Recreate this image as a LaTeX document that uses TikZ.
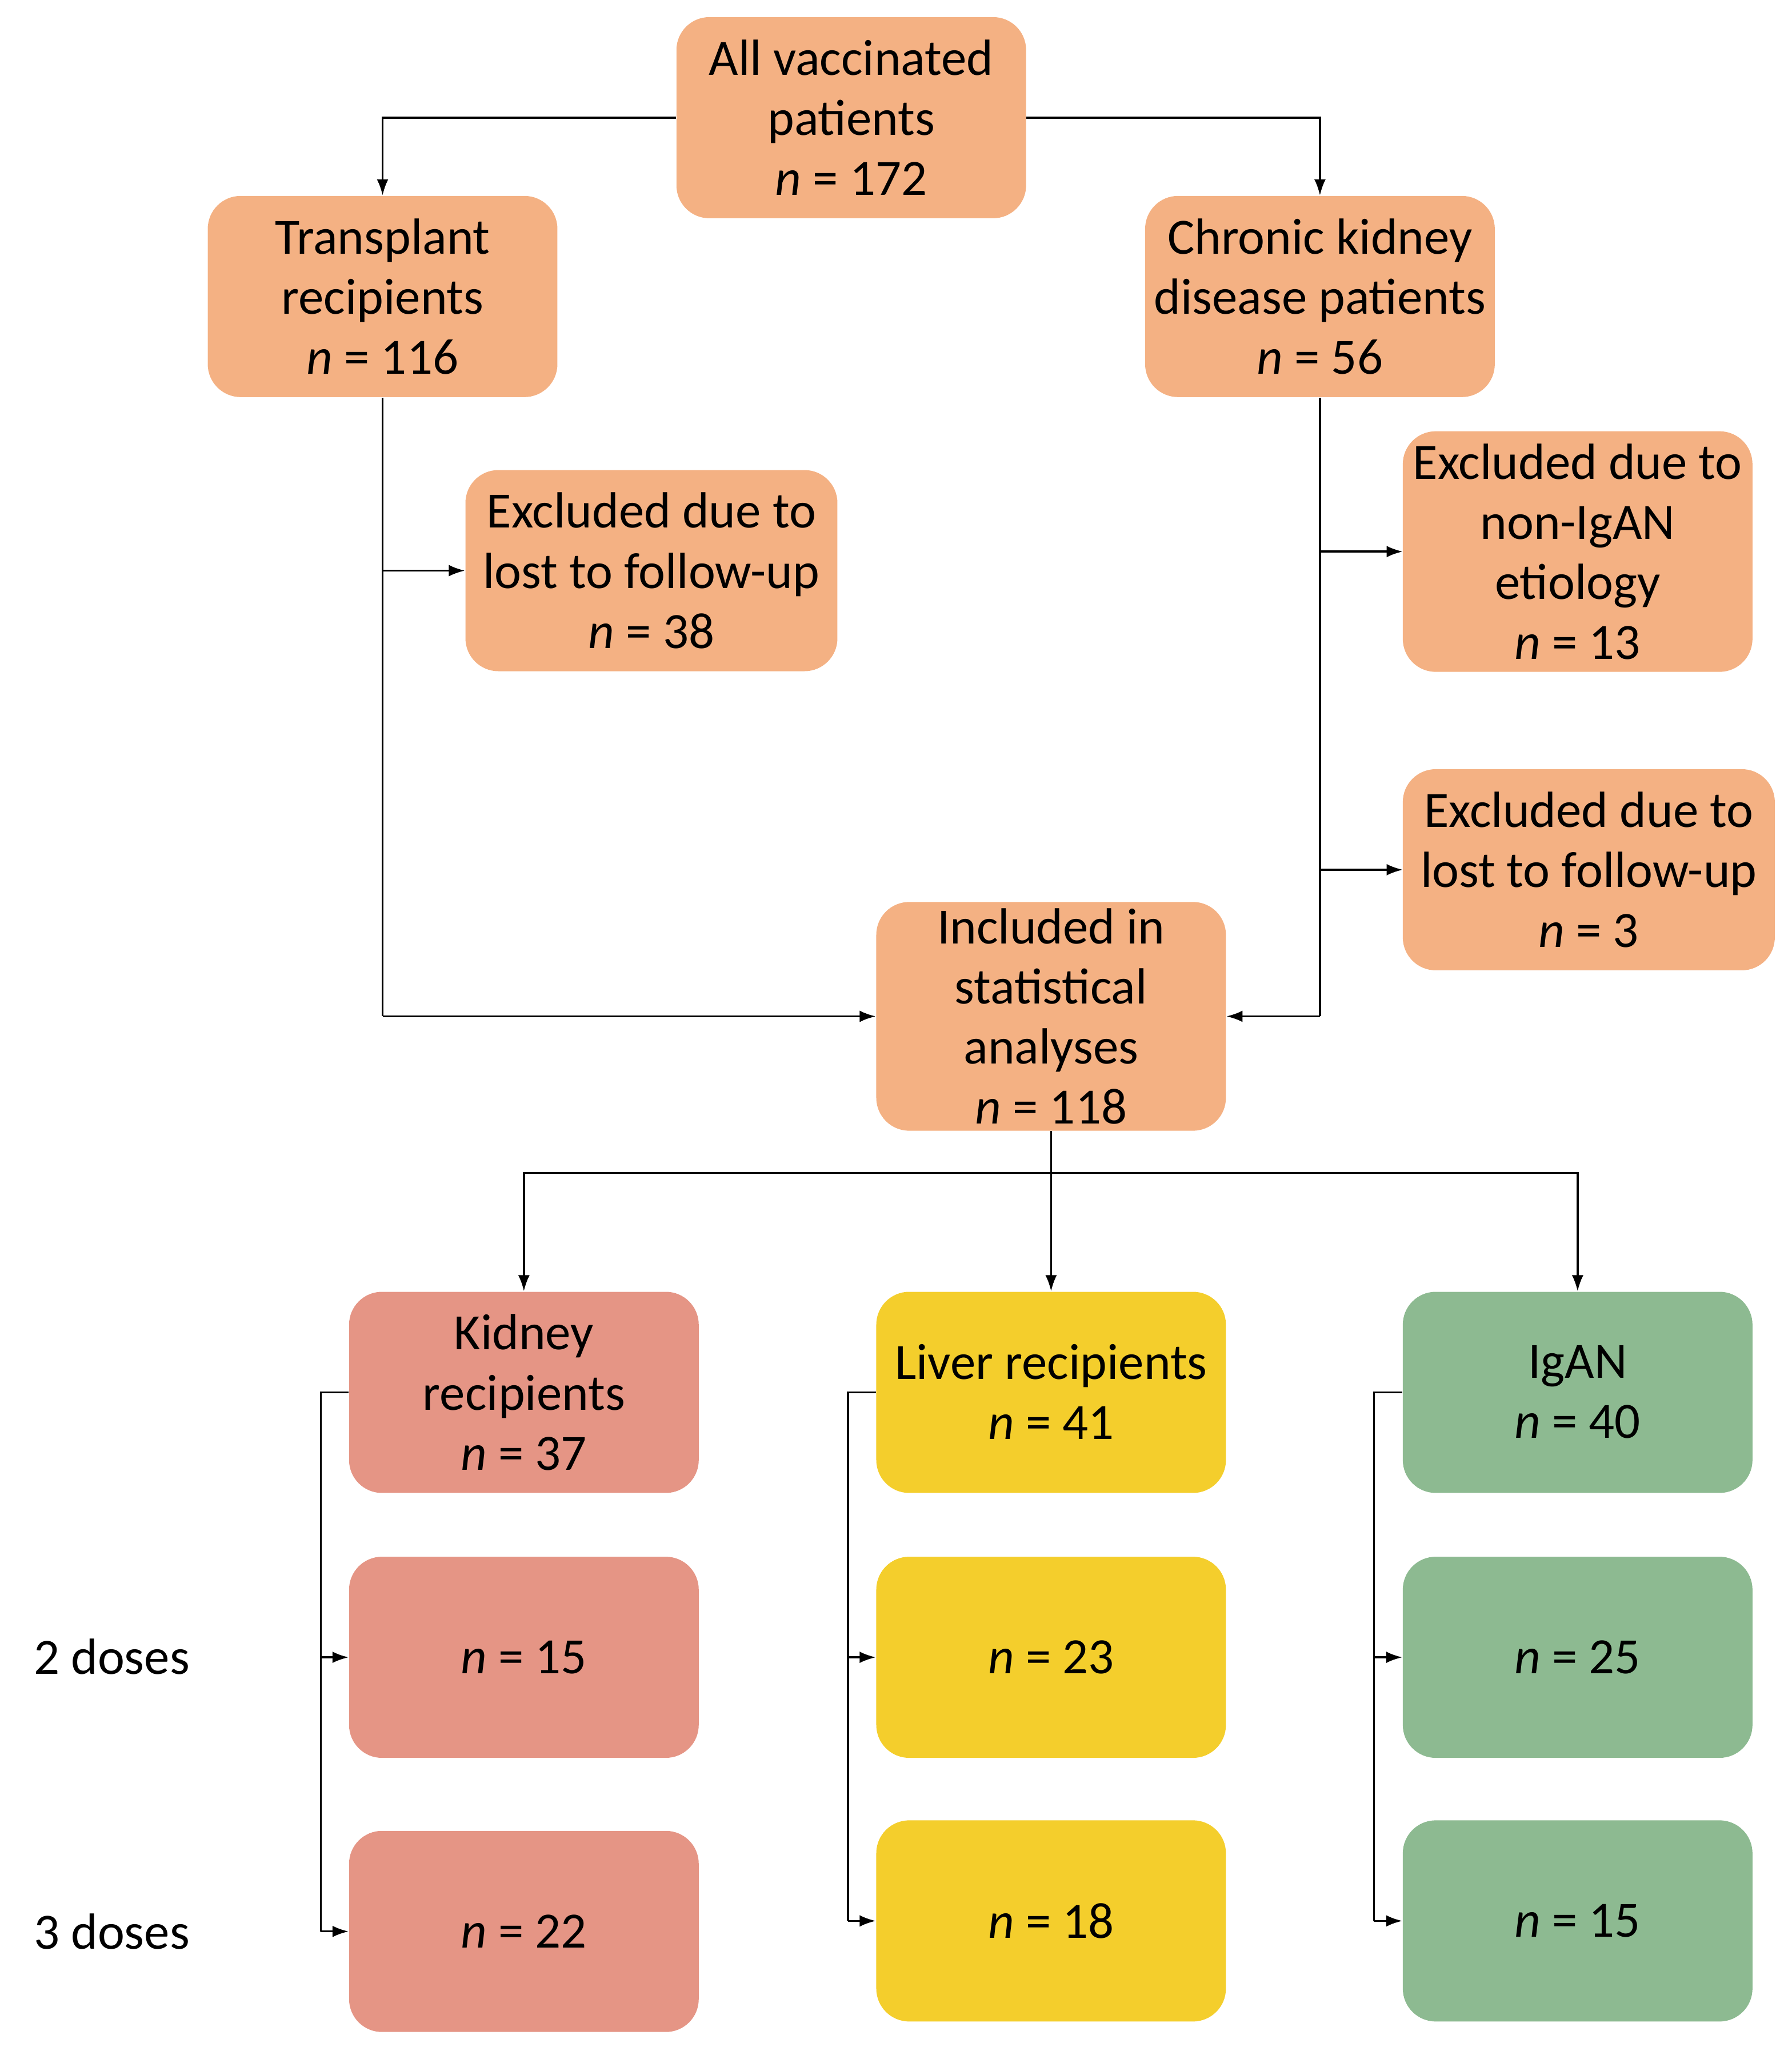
\documentclass[tikz,border=0pt]{standalone}
\usepackage{fontspec}
\setmainfont{Carlito}
\usetikzlibrary{arrows.meta}
\begin{document}
\begin{tikzpicture}[x=0.02cm,y=-0.02cm,
  box/.style={rounded corners=0.5cm,minimum width=5.32cm,minimum height=3.06cm,align=center,inner sep=2pt,font=\fontsize{22}{26}\selectfont},
  org/.style={box,fill=orbox},
  kid/.style={box,fill=kbox},
  liv/.style={box,fill=lbox},
  grn/.style={box,fill=gbox},
  ln/.style={line width=0.85pt},
  ar/.style={ln,-{Latex[length=7pt,width=5pt]}}]
\definecolor{orbox}{HTML}{F4B183}
\definecolor{kbox}{HTML}{E59585}
\definecolor{lbox}{HTML}{F4CE2C}
\definecolor{gbox}{HTML}{8DBA91}
\useasboundingbox (0,0) rectangle (1363,1563);
\node[org] (all) at (647.5,89.5) {All vaccinated\\patients\\\textit{n} = 172};
\node[org] (tr) at (291,225.5) {Transplant\\recipients\\\textit{n} = 116};
\node[org] (ckd) at (1004,225.5) {Chronic kidney\\disease patients\\\textit{n} = 56};
\node[org,minimum width=5.66cm] (ex1) at (495.5,434) {Excluded due to\\lost to follow-up\\\textit{n} = 38};
\node[org,minimum height=3.66cm] (ex2) at (1200,419.5) {Excluded due to\\non-IgAN\\etiology\\\textit{n} = 13};
\node[org,minimum width=5.66cm] (ex3) at (1208.5,661.5) {Excluded due to\\lost to follow-up\\\textit{n} = 3};
\node[org,minimum height=3.48cm] (inc) at (799.5,773) {Included in\\statistical\\analyses\\\textit{n} = 118};
\node[kid] (k1) at (398.5,1059) {Kidney\\recipients\\\textit{n} = 37};
\node[liv] (l1) at (799.5,1059) {Liver recipients\\\textit{n} = 41\\[-0.9cm]};
\node[grn] (g1) at (1200,1059) {IgAN\\\textit{n} = 40\\[-0.9cm]};
\node[kid] (k2) at (398.5,1260.5) {\textit{n} = 15};
\node[liv] (l2) at (799.5,1260.5) {\textit{n} = 23};
\node[grn] (g2) at (1200,1260.5) {\textit{n} = 25};
\node[kid] (k3) at (398.5,1469) {\textit{n} = 22};
\node[liv] (l3) at (799.5,1461) {\textit{n} = 18};
\node[grn] (g3) at (1200,1461) {\textit{n} = 15};
\node[font=\fontsize{22}{26}\selectfont] (d2) at (85,1260) {2 doses};
\node[font=\fontsize{22}{26}\selectfont] (d3) at (85,1469) {3 doses};
% top
\draw[ar] (all.west) -| (tr.north);
\draw[ar] (all.east) -| (ckd.north);
% left trunk
\coordinate (tb) at (291,773);
\draw[ln] (tr.south) -- (tb);
\draw[ar] (tb) -- (inc.west);
\draw[ar] (291,434) -- (ex1.west);
% right trunk
\coordinate (cb) at (1004,773);
\draw[ln] (ckd.south) -- (cb);
\draw[ar] (cb) -- (inc.east);
\draw[ar] (1004,419.5) -- (1067,419.5);
\draw[ar] (1004,661.5) -- (1067,661.5);
% split
\coordinate (sp) at (799.5,892);
\draw[ln] (inc.south) -- (sp);
\draw[ar] (sp) -- (l1.north);
\draw[ar] (sp) -| (k1.north);
\draw[ar] (sp) -| (g1.north);
% doses
\draw[ln] (k1.west) -- (244,1059) -- (244,1469);
\draw[ar] (244,1260.5) -- (k2.west);
\draw[ar] (244,1469) -- (k3.west);
\draw[ln] (l1.west) -- (645,1059) -- (645,1461);
\draw[ar] (645,1260.5) -- (l2.west);
\draw[ar] (645,1461) -- (l3.west);
\draw[ln] (g1.west) -- (1045,1059) -- (1045,1461);
\draw[ar] (1045,1260.5) -- (g2.west);
\draw[ar] (1045,1461) -- (g3.west);
\end{tikzpicture}
\end{document}
